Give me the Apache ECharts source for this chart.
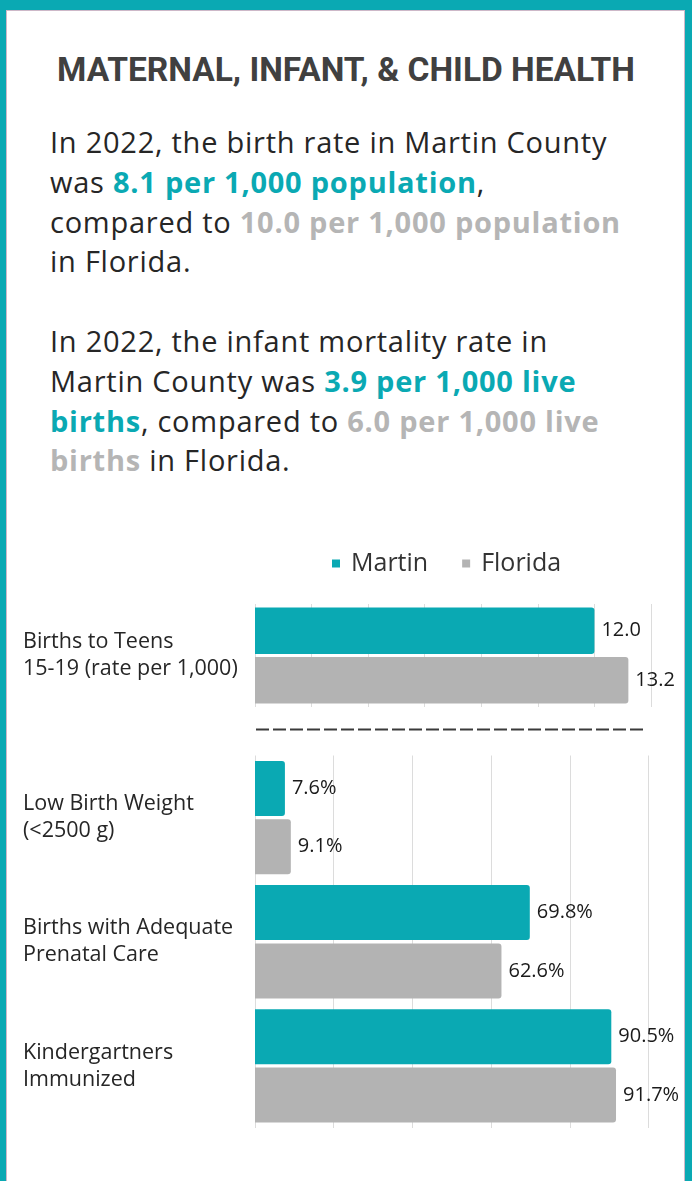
<!DOCTYPE html>
<html>
<head>
<meta charset="utf-8">
<script src="https://cdn.jsdelivr.net/npm/echarts@6/dist/echarts.min.js"></script>
<style>
  html, body { margin: 0; padding: 0; }
  body { width: 692px; height: 1181px; background: #0aa9b3; position: relative; overflow: hidden; }
  .panel {
    position: absolute; left: 6px; top: 10px; width: 677px; height: 1180px;
    background: #fff; border: 1px solid #cdb8c8; border-bottom: none;
  }
  h1 {
    position: absolute; left: 0; top: 50px; width: 692px; margin: 0;
    text-align: center; font-family: Roboto, sans-serif; font-weight: 700;
    font-size: 33.5px; line-height: 40px; color: #404040;
  }
  .intro {
    position: absolute; left: 50px; top: 122px; margin: 0;
    font-family: "Open Sans", sans-serif; font-size: 29px; line-height: 39.8px;
    letter-spacing: 0.75px; color: #262626; white-space: nowrap;
  }
  .intro b { font-weight: 700; }
  .teal { color: #0aa9b3; }
  .grey { color: #b5b5b5; }
  #chart { position: absolute; left: 0; top: 0; width: 692px; height: 1181px; }
</style>
</head>
<body>
<div class="panel"></div>
<h1>MATERNAL, INFANT, &amp; CHILD HEALTH</h1>
<p class="intro">In 2022, the birth rate in Martin County<br>was <b class="teal">8.1 per 1,000 population</b>,<br>compared to <b class="grey">10.0 per 1,000 population</b><br>in Florida.<br><br>In 2022, the infant mortality rate in<br>Martin County was <b class="teal">3.9 per 1,000 live</b><br><b class="teal">births</b>, compared to <b class="grey">6.0 per 1,000 live</b><br><b class="grey">births</b> in Florida.</p>
<div id="chart"></div>
<script>
// data
const seriesNames = ["Martin", "Florida"]
const teenCategories = ["Births to Teens\n15-19 (rate per 1,000)"]
const teenMartin = [12.0]
const teenFlorida = [13.2]
const teenTicks = { min: 0, max: 14, interval: 2 }

const pctCategories = ["Low Birth Weight\n(<2500 g)", "Births with Adequate\nPrenatal Care", "Kindergartners\nImmunized"]
const pctMartin = [7.6, 69.8, 90.5]
const pctFlorida = [9.1, 62.6, 91.7]
const pctTicks = { min: 0, max: 100, interval: 20 }

const TEAL = "#0aa9b3"
const GREY = "#b3b3b3"
const FONT = "Open Sans"

const chart = echarts.init(document.getElementById("chart"))

function valueAxis(gridIndex, ticks) {
  return {
    type: "value",
    gridIndex: gridIndex,
    min: ticks.min,
    max: ticks.max,
    interval: ticks.interval,
    axisLabel: { show: false },
    axisLine: { show: false },
    axisTick: { show: false },
    splitLine: { lineStyle: { color: "#dcdcdc", width: 1 } }
  }
}

function catAxis(gridIndex, cats) {
  return {
    type: "category",
    gridIndex: gridIndex,
    data: cats,
    inverse: true,
    axisLine: { show: false },
    axisTick: { show: false },
    axisLabel: {
      align: "left",
      margin: 232,
      fontFamily: FONT,
      fontSize: 21.5,
      lineHeight: 27,
      color: "#262626"
    }
  }
}

function barSeries(name, color, data, gridIdx, width, fmt) {
  return {
    name: name,
    type: "bar",
    xAxisIndex: gridIdx,
    yAxisIndex: gridIdx,
    data: data,
    barWidth: width,
    barGap: "6%",
    itemStyle: { color: color, borderRadius: [0, 3, 3, 0] },
    label: {
      show: true,
      position: "right",
      distance: 7,
      fontFamily: FONT,
      fontSize: 20,
      color: "#1a1a1a",
      formatter: p => fmt(p.value)
    }
  }
}

const rate = v => v.toFixed(1)
const pct = v => v.toFixed(1) + "%"

chart.setOption({
  animation: false,
  legend: {
    data: seriesNames,
    left: 327,
    top: 546,
    icon: "rect",
    itemWidth: 8,
    itemHeight: 8,
    itemGap: 34,
    textStyle: { fontFamily: FONT, fontSize: 25, color: "#333", padding: [0, 0, 0, 6] }
  },
  grid: [
    { left: 255, top: 604, width: 396, height: 103 },
    { left: 255, top: 755.5, width: 393.7, height: 372.5 }
  ],
  xAxis: [valueAxis(0, teenTicks), valueAxis(1, pctTicks)],
  yAxis: [catAxis(0, teenCategories), catAxis(1, pctCategories)],
  series: [
    barSeries(seriesNames[0], TEAL, teenMartin, 0, 46.7, rate),
    barSeries(seriesNames[1], GREY, teenFlorida, 0, 46.7, rate),
    barSeries(seriesNames[0], TEAL, pctMartin, 1, 55, pct),
    barSeries(seriesNames[1], GREY, pctFlorida, 1, 55, pct)
  ],
  graphic: [{
    type: "line",
    shape: { x1: 256, y1: 729.5, x2: 647, y2: 729.5 },
    style: { stroke: "#3a3a3a", lineWidth: 2, lineDash: [13, 4] }
  }]
})
</script>
</body>
</html>
